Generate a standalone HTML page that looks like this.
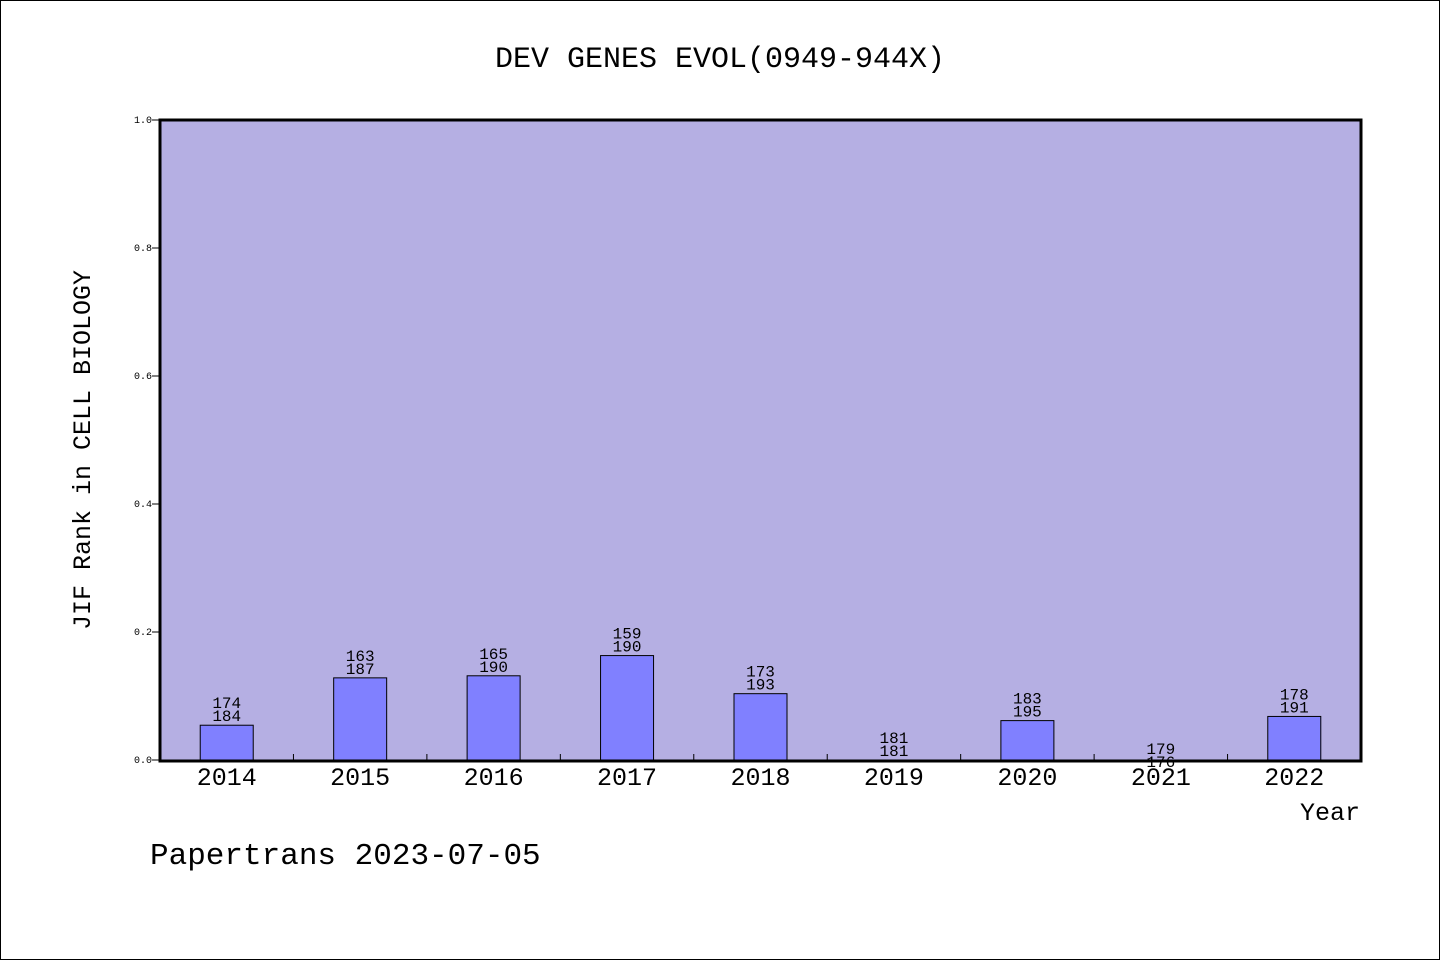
<!DOCTYPE html>
<html><head><meta charset="utf-8"><style>
html,body{margin:0;padding:0;background:#fff}
svg text{font-family:"WenQuanYi Zen Hei","Liberation Mono",monospace;fill:#000}
</style></head><body>
<svg width="1440" height="960" xmlns="http://www.w3.org/2000/svg">
<rect x="0.5" y="0.5" width="1439" height="959" fill="#fff" stroke="#000"/>
<text x="720" y="67" font-size="30" text-anchor="middle">DEV GENES EVOL(0949-944X)</text>
<rect x="160" y="120" width="1201" height="641" fill="#b5afe3"/>
<g id="yticks"></g>
<g id="bars"></g>
<rect x="160" y="120" width="1201" height="641" fill="none" stroke="#000" stroke-width="3"/>
<text transform="translate(90,450) rotate(-90)" font-size="25" text-anchor="middle">JIF Rank in CELL BIOLOGY</text>
<text x="1360" y="820" font-size="25" text-anchor="end">Year</text>
<text x="150" y="864" font-size="31">Papertrans 2023-07-05</text>
</svg>
<script>
const years=["2014","2015","2016","2017","2018","2019","2020","2021","2022"];
const ranks=[174,163,165,159,173,181,183,179,178];
const totals=[184,187,190,190,193,181,195,176,191];
const yTickLabels=["0.0","0.2","0.4","0.6","0.8","1.0"];
const NS="http://www.w3.org/2000/svg";
const X0=160,X1=1361,Y0=760,Y1=120;
const band=(X1-X0)/years.length;
function xc(i){return X0+band*(i+0.5);}
function y(v){return Y0-(Y0-Y1)*v;}
function mk(t,a,p){const e=document.createElementNS(NS,t);for(const k in a)e.setAttribute(k,a[k]);p.appendChild(e);return e;}
const yt=document.getElementById('yticks');
yTickLabels.forEach(l=>{const v=parseFloat(l);
 const ln=mk('line',{x1:X0-8,x2:X0,y1:y(v),y2:y(v),stroke:'#000'},yt);
 
 
 const t=mk('text',{x:X0-8,y:y(v)+3,'font-size':10,'text-anchor':'end'},yt);t.textContent=l;
 
 
});
const g=document.getElementById('bars');
years.forEach((yr,i)=>{
 const v=1-ranks[i]/totals[i];const bw=53;
 const r=mk('rect',{x:xc(i)-bw/2,y:y(v),width:bw,height:Y0-y(v),fill:'#8080ff',stroke:'#000','stroke-width':1},g);
 
 
 const t1=mk('text',{x:xc(i),y:y(v)-17,'font-size':16,'text-anchor':'middle'},g);t1.textContent=ranks[i];
 
 
 const t2=mk('text',{x:xc(i),y:y(v)-4,'font-size':16,'text-anchor':'middle'},g);t2.textContent=totals[i];
 
 
 const xl=mk('text',{x:xc(i),y:785,'font-size':25,'text-anchor':'middle'},g);xl.textContent=yr;
 
 
 if(i>0){const tk=mk('line',{x1:X0+band*i,x2:X0+band*i,y1:Y0-6,y2:Y0,stroke:'#000'},g);
 
 }
});
</script>
</body></html>
